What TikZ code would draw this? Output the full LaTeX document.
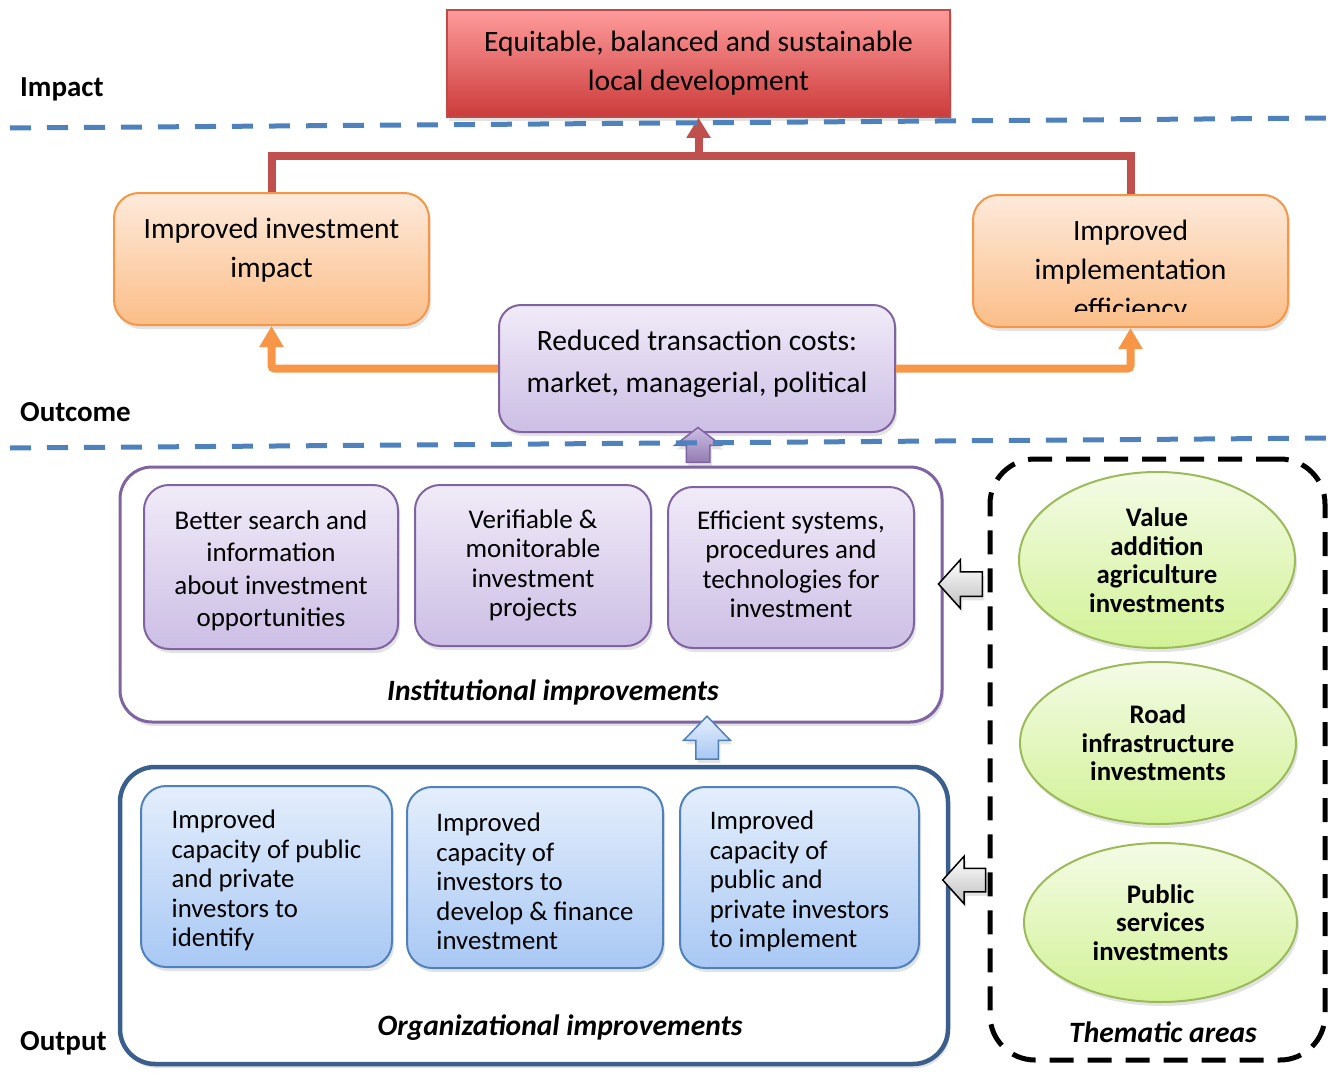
\documentclass[tikz,border=0pt]{standalone}
\usepackage{fontspec}
\setmainfont{Carlito}
\usetikzlibrary{arrows.meta,shapes.geometric,shapes.arrows,shadows,calc}

\definecolor{goaltop}{HTML}{FF9B9B}
\definecolor{goalbot}{HTML}{CC3B3B}
\definecolor{goaledge}{HTML}{BE4B48}
\definecolor{linered}{HTML}{C0504D}
\definecolor{outtop}{HTML}{FEEADB}
\definecolor{outbot}{HTML}{FBBE88}
\definecolor{outedge}{HTML}{F79646}
\definecolor{costtop}{HTML}{F1EBF8}
\definecolor{costbot}{HTML}{CCBEE5}
\definecolor{costedge}{HTML}{8064A2}
\definecolor{orgtop}{HTML}{E4EEFC}
\definecolor{orgbot}{HTML}{A8C8F4}
\definecolor{orgedge}{HTML}{4F81BD}
\definecolor{orgframe}{HTML}{3A5F8C}
\definecolor{areatop}{HTML}{F4FBE6}
\definecolor{areabot}{HTML}{D2F296}
\definecolor{areaedge}{HTML}{9BBB59}
\definecolor{dashblue}{HTML}{4F81BD}

\tikzset{
  softshadow/.style={drop shadow={shadow xshift=2pt,shadow yshift=-4pt,opacity=.22}},
  levellbl/.style={font=\fontsize{29}{35}\selectfont\bfseries, inner sep=0pt, anchor=west},
  boxtext/.style={font=\fontsize{29.5}{39}\selectfont, align=center, inner sep=0pt},
  instext/.style={font=\fontsize{27}{29.5}\selectfont, align=center, inner sep=0pt},
  orgtext/.style={font=\fontsize{26.8}{29.5}\selectfont, align=left, inner sep=0pt},
  goalbox/.style={boxtext, draw=goaledge, line width=1.5pt, top color=goaltop, bottom color=goalbot,
    minimum width=503pt, minimum height=107pt, softshadow},
  outbox/.style={draw=outedge, line width=2pt, top color=outtop, bottom color=outbot,
    rounded corners=25pt, minimum width=315pt, minimum height=132pt, softshadow},
  costbox/.style={draw=costedge, line width=2pt, top color=costtop, bottom color=costbot,
    rounded corners=22pt, minimum width=396pt, minimum height=127pt, softshadow},
  instbox/.style={instext, draw=costedge, line width=2pt, top color=costtop, bottom color=costbot,
    rounded corners=25pt, minimum height=162pt, softshadow},
  orgbox/.style={draw=orgedge, line width=2pt, top color=orgtop, bottom color=orgbot,
    rounded corners=25pt, minimum height=181pt, softshadow},
  areaell/.style={ellipse, font=\fontsize{26.8}{28.5}\selectfont\bfseries, align=center, inner sep=0pt,
    draw=areaedge, line width=2pt, top color=areatop, bottom color=areabot, softshadow},
  frame/.style={fill=white, rounded corners=32pt, softshadow},
  framelbl/.style={font=\fontsize{29.5}{34}\selectfont\bfseries\itshape, inner sep=0pt},
  redline/.style={draw=linered, line width=8pt},
  orangeline/.style={draw=outedge, line width=8pt, rounded corners=3pt},
  blockarrow/.style={single arrow, line width=1.5pt, softshadow},
  levelline/.style={draw=dashblue, line width=5pt, dash pattern=on 21pt off 16pt}
}

\begin{document}
\begin{tikzpicture}[x=1pt,y=-1pt]
\useasboundingbox (0,0) rectangle (1339,1076);

% level labels
\node[levellbl] (lvimpact) at (20,89) {Impact};
\node[levellbl] (lvoutcome) at (20,412) {Outcome};
\node[levellbl] (lvoutput) at (20,1043) {Output};

% impact
\node[goalbox] (goal) at (698.5,63.5) {Equitable, balanced and sustainable\\local development};

% outcomes
\node[outbox, label={[boxtext,yshift=9pt]center:{Improved investment\\impact}}] (invimp) at (271.5,259) {};
\node[outbox] (impeff) at (1130.5,261) {};
\begin{scope}
  \clip (impeff.north west) rectangle ([yshift=17pt]impeff.south east);
  \node[boxtext] (impefftxt) at ([yshift=-11pt]impeff.center) {Improved\\implementation\\efficiency};
\end{scope}
\node[costbox, label={[boxtext,font=\fontsize{29.5}{42}\selectfont,yshift=5pt]center:{Reduced transaction costs:\\market, managerial, political}}] (costs) at (697,368.5) {};

\coordinate (hub) at ($(goal.south)+(0,38)$);
\draw[redline] (invimp.north) |- (hub) -| (impeff.north);
\draw[redline,-{Triangle[width=23pt,length=20pt]}] (hub) -- (goal.south);
\draw[orangeline,-{Triangle[width=23pt,length=21pt]}] (costs.west) -| (invimp.south);
\draw[orangeline,-{Triangle[width=23pt,length=21pt]}] (costs.east) -| (impeff.south);

% institutional improvements
\node[frame, draw=costedge, line width=3pt, minimum width=822pt, minimum height=255pt] (inst) at (531,594.5) {};
\node[framelbl] (instlbl) at (553,692) {Institutional improvements};
\node[instbox, minimum width=254pt, minimum height=164pt,
  label={[instext,font=\fontsize{27}{32.5}\selectfont,yshift=-4pt]center:{Better search and\\information\\about investment\\opportunities}}] (search) at (271,567) {};
\node[instbox, minimum width=236pt, minimum height=161pt] (verif) at (533,565.5)
  {Verifiable \&\\monitorable\\investment\\projects};
\node[instbox, minimum width=246pt, minimum height=161pt,
  label={[instext,yshift=3pt]center:{Efficient systems,\\procedures and\\technologies for\\investment}}] (systems) at (791,567.5) {};

% organizational improvements
\node[frame, draw=orgframe, line width=4.5pt, rounded corners=35pt, minimum width=828pt, minimum height=297pt] (org) at (534,915.5) {};
\node[framelbl] (orglbl) at (560,1028) {Organizational improvements};
\node[orgbox, minimum width=251pt,
  label={[orgtext,yshift=-4pt]center:{Improved\\capacity of public\\and private\\investors to\\identify}}] (identify) at (266.5,876.5) {};
\node[orgbox, minimum width=256pt,
  label={[orgtext,yshift=-4pt]center:{Improved\\capacity of\\investors to\\develop \& finance\\investment}}] (finance) at (535,877.5) {};
\node[orgbox, minimum width=239pt,
  label={[orgtext,yshift=-4pt]center:{Improved\\capacity of\\public and\\private investors\\to implement}}] (implement) at (799.5,877.5) {};

% thematic areas
\node[draw=black, line width=5pt, dash pattern=on 24pt off 14pt, rounded corners=45pt,
  minimum width=335pt, minimum height=601pt] (areas) at (1157.5,759.5) {};
\node[framelbl] (areaslbl) at (1163,1032) {Thematic areas};
\node[areaell, minimum width=276pt, minimum height=176pt] (agri) at (1157,560)
  {Value\\addition\\agriculture\\investments};
\node[areaell, minimum width=276pt, minimum height=162pt] (road) at (1158,743)
  {Road\\infrastructure\\investments};
\node[areaell, minimum width=273pt, minimum height=159pt] (public) at (1160.5,922.5)
  {Public\\services\\investments};

% block arrows
\node[blockarrow, draw=costedge, top color=costbot, bottom color=costedge!85,
  shape border rotate=90, minimum height=35pt, inner sep=11pt,
  single arrow head extend=11.5pt, single arrow tip angle=105] (costup) at (698,449.5) {};
\node[blockarrow, draw=orgedge, top color=orgtop, bottom color=orgbot,
  shape border rotate=90, minimum height=43pt, inner sep=10.5pt,
  single arrow head extend=12pt, single arrow tip angle=88] (instup) at (707,743.5) {};
\node[blockarrow, draw=black, top color=white, bottom color=black!25,
  shape border rotate=180, minimum height=44pt, inner sep=11.5pt,
  single arrow head extend=12pt, single arrow tip angle=96] (areainst) at (966,584) {};
\node[blockarrow, draw=black, top color=white, bottom color=black!25,
  shape border rotate=180, minimum height=43pt, inner sep=11pt,
  single arrow head extend=12pt, single arrow tip angle=96] (areaorg) at (969.5,880) {};

% level lines
\draw[levelline] (10,128) -- (1335,118);
\draw[levelline] (10,448) -- (1335,438);
\end{tikzpicture}
\end{document}
